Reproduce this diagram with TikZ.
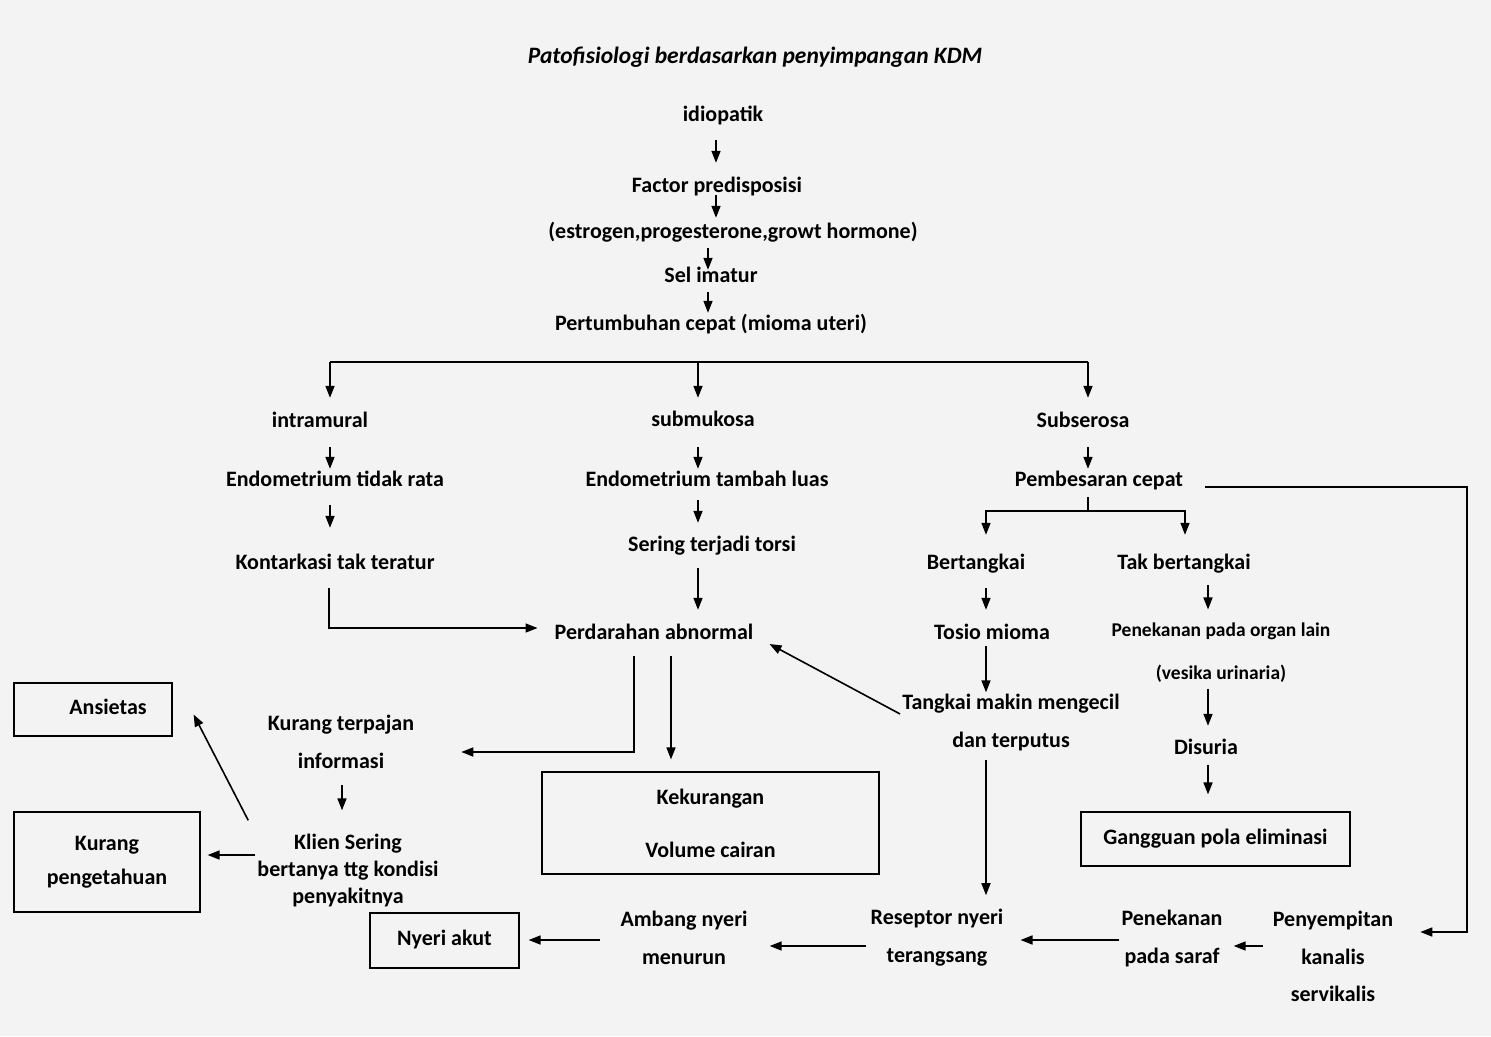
\documentclass[tikz,border=0pt]{standalone}
\usepackage{fontspec}
\setmainfont{Carlito}
\usetikzlibrary{arrows.meta}
\definecolor{latar}{RGB}{243,243,243}
\tikzset{
  teks/.style={font=\fontsize{22}{26}\selectfont\bfseries, text height=15pt, text depth=5pt, inner sep=2pt},
  baris/.style={font=\fontsize{22}{#1}\selectfont\bfseries, align=center, inner sep=2pt},
  kotak/.style={draw, line width=1.2pt, inner sep=0pt, align=center},
  panah/.style={-{Triangle[length=12pt,width=9pt]}, line width=1.6pt},
  garis/.style={line width=1.6pt}
}
\begin{document}
\begin{tikzpicture}[x=1pt,y=-1pt]
\fill[latar] (0,0) rectangle (1491,1036);
\useasboundingbox (0,0) rectangle (1491,1036);

\node[font=\fontsize{23.5}{28}\selectfont\bfseries\itshape] (judul) at (755,57) {Patofisiologi berdasarkan penyimpangan KDM};

% jalur utama
\node[teks] (idio) at (723,116) {idiopatik};
\node[teks] (factor) at (717,187) {Factor predisposisi};
\node[teks] (hormon) at (733,233) {(estrogen,progesterone,growt hormone)};
\node[teks] (sel) at (711,277) {Sel imatur};
\node[teks] (tumbuh) at (711,325) {Pertumbuhan cepat (mioma uteri)};

\node[teks] (intra) at (320,422) {intramural};
\node[teks] (endo1) at (335,481) {Endometrium tidak rata};
\node[teks] (kontr) at (335,564) {Kontarkasi tak teratur};
\node[teks] (subm) at (703,421) {submukosa};
\node[teks] (endo2) at (707,481) {Endometrium tambah luas};
\node[teks] (torsi) at (712,546) {Sering terjadi torsi};
\node[teks] (darah) at (654,634) {Perdarahan abnormal};
\node[teks] (subs) at (1083,422) {Subserosa};
\node[teks] (besar) at (1099,481) {Pembesaran cepat};
\node[teks] (tangkai) at (976,564) {Bertangkai};
\node[teks] (taktangkai) at (1184,564) {Tak bertangkai};
\node[teks] (tosio) at (992,634) {Tosio mioma};
\node[baris=43, font=\fontsize{19.5}{43}\selectfont\bfseries] (organ) at (1221,652.5) {Penekanan pada organ lain\\(vesika urinaria)};
\node[teks] (disuria) at (1206,749) {Disuria};
\node[baris=38] (putus) at (1011,723) {Tangkai makin mengecil\\dan terputus};

% baris bawah
\node[baris=38] (reseptor) at (937,938) {Reseptor nyeri\\terangsang};
\node[baris=38] (saraf) at (1172,938) {Penekanan\\pada saraf};
\node[baris=37.5] (sempit) at (1333,956.5) {Penyempitan\\kanalis\\servikalis};
\node[baris=38] (ambang) at (684,938) {Ambang nyeri\\menurun};
\node[baris=38] (kurinfo) at (341,742) {Kurang terpajan\\informasi};
\node[baris=27] (klien) at (348,870) {Klien Sering\\bertanya ttg kondisi\\penyakitnya};

% diagnosa
\node[kotak, baris=53, minimum width=337pt, minimum height=102pt] (cairan) at (710.5,823) {Kekurangan\\Volume cairan};
\node[kotak, baris=34, minimum width=186pt, minimum height=100pt] (kurpeng) at (107,862) {Kurang\\pengetahuan};
\node[kotak, teks, inner sep=0pt, minimum width=158pt, minimum height=53pt] (ansietas) at (93,709.5) {\hspace{30pt}Ansietas};
\node[kotak, teks, inner sep=0pt, minimum width=269pt, minimum height=54pt] (eliminasi) at (1215.5,839) {Gangguan pola eliminasi};
\node[kotak, teks, inner sep=0pt, minimum width=149pt, minimum height=55pt] (nyeri) at (444.5,940.5) {Nyeri akut};

% panah jalur utama
\draw[panah,shorten <=12pt,shorten >=12pt] (idio.south -| 716,0) -- (factor.north -| 716,0);
\draw[panah,shorten <=-4pt,shorten >=3pt] (factor.south -| 716,0) -- (hormon.north -| 716,0);
\draw[panah,shorten <=3pt,shorten >=-5pt] (hormon.south -| 708,0) -- (sel.north -| 708,0);
\draw[panah,shorten <=3pt] (sel.south -| 708,0) -- (tumbuh.north -| 708,0);

\coordinate (cabangL) at (330,362);
\coordinate (cabang) at (698,362);
\coordinate (cabangR) at (1088,362);
\draw[garis] (cabangL) -- (cabangR);
\draw[panah,shorten >=12pt] (cabangL) -- (intra.north -| cabangL);
\draw[panah,shorten >=11pt] (cabang) -- (subm.north -| cabang);
\draw[panah,shorten >=12pt] (cabangR) -- (subs.north -| cabangR);

% kiri
\draw[panah,shorten <=13pt] (intra.south -| 330,0) -- (endo1.north -| 330,0);
\draw[panah,shorten <=12pt,shorten >=24pt] (endo1.south -| 330,0) -- (kontr.north -| 330,0);
\draw[panah,shorten <=12pt,shorten >=15pt] (kontr.south -| 329,0) |- ([yshift=6pt]darah.west);

% tengah
\draw[panah,shorten <=14pt] (subm.south -| 698,0) -- (endo2.north -| 698,0);
\draw[panah,shorten <=7pt,shorten >=11pt] (endo2.south -| 698,0) -- (torsi.north -| 698,0);
\draw[panah,shorten <=10pt,shorten >=12pt] (torsi.south -| 698,0) -- (darah.north -| 698,0);
\draw[panah,shorten <=10pt,shorten >=45pt] (darah.south -| 634,0) |- ([yshift=-10pt]kurinfo.east);
\draw[panah,shorten <=10pt,shorten >=12pt] (darah.south -| 671,0) -- (cairan.north -| 671,0);

% kanan
\draw[panah,shorten <=13pt] (subs.south -| 1088,0) -- (besar.north -| 1088,0);
\coordinate (belah) at (1088,511);
\draw[garis,shorten <=4pt] (besar.south -| belah) -- (belah);
\draw[panah,shorten >=17pt] (belah) -| (tangkai.north -| 986,0);
\draw[panah,shorten >=17pt] (belah) -| (taktangkai.north -| 1185,0);
\draw[panah,shorten <=12pt,shorten >=12pt] (tangkai.south -| 986,0) -- (tosio.north -| 986,0);
\draw[panah] (tosio.south -| 986,0) -- (putus.north -| 986,0);
\draw[panah,shorten <=9pt,shorten >=11pt] (taktangkai.south -| 1208,0) -- (organ.north -| 1208,0);
\draw[panah,shorten <=4pt,shorten >=11pt] (organ.south -| 1208,0) -- (disuria.north -| 1208,0);
\draw[panah,shorten <=4pt,shorten >=17pt] (disuria.south -| 1208,0) -- (eliminasi.north -| 1208,0);
\draw[panah] ([yshift=9pt]putus.west) -- ([xshift=14pt,yshift=-10pt]darah.east);
\draw[panah,shorten <=6pt,shorten >=12pt] (putus.south -| 986,0) -- (reseptor.north -| 986,0);
\coordinate (tikung) at (1467,932);
\draw[panah,shorten >=25pt] ([xshift=20pt,yshift=-6pt]besar.east) -| (tikung) -- (tikung -| sempit.east);

% bawah
\draw[panah,shorten <=8pt,shorten >=9pt] (sempit.west |- 0,946) -- (saraf.east |- 0,946);
\draw[panah,shorten >=15pt] (saraf.west |- 0,940) -- (reseptor.east |- 0,940);
\draw[panah,shorten <=2pt,shorten >=20pt] (reseptor.west |- 0,946) -- (ambang.east |- 0,946);
\draw[panah,shorten <=18pt,shorten >=9pt] (ambang.west |- 0,940) -- (nyeri.east |- 0,940);

% kiri bawah
\draw[panah,shorten <=14pt,shorten >=21pt] (kurinfo.south -| 342,0) -- (klien.north -| 342,0);
\draw[panah,shorten >=7pt] (klien.west |- 0,855) -- (kurpeng.east |- 0,855);
\draw[panah] ([xshift=-7pt,yshift=11pt]klien.north west) -- ([xshift=21pt,yshift=-5pt]ansietas.east);
\end{tikzpicture}
\end{document}
